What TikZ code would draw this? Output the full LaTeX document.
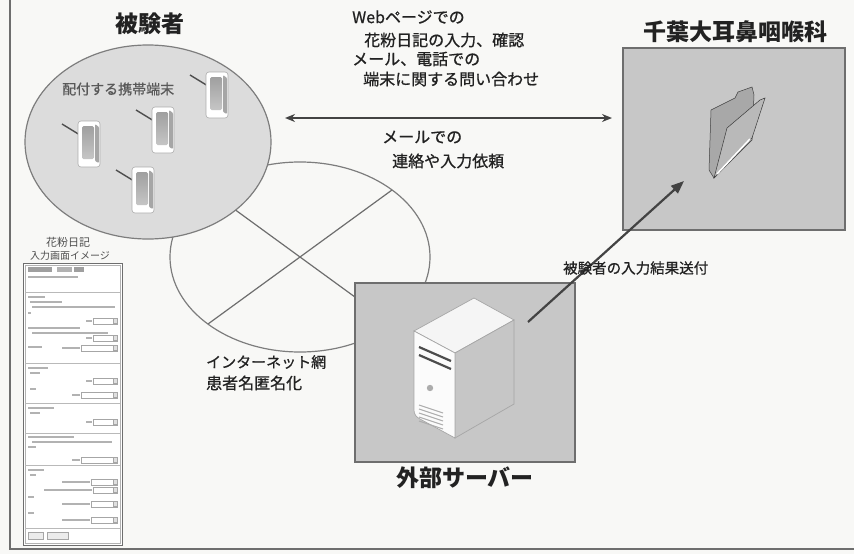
\documentclass[tikz,border=0pt]{standalone}
\usepackage{fontspec}
\newfontfamily\jp{Noto Sans CJK JP}
\newfontfamily\jpm{Noto Sans CJK JP}[FakeBold=0.8]
\usetikzlibrary{shapes.geometric,arrows.meta,calc}
\definecolor{ink}{HTML}{222222}
\definecolor{paper}{HTML}{F8F8F6}
\definecolor{edge}{HTML}{6E6E6E}
\definecolor{boxgray}{HTML}{C7C7C7}
\definecolor{ovalgray}{HTML}{DCDCDC}
\tikzset{
  every node/.style={font=\jp, text=ink, inner sep=0pt},
  title/.style={font=\jp\bfseries\fontsize{23}{26}\selectfont},
  note/.style={anchor=west, font=\jpm\fontsize{16}{19}\selectfont},
  panel/.style={rectangle, draw=edge, line width=1.2pt, fill=boxgray},
  oval/.style={ellipse, draw=edge!90, line width=1.2pt},
  link/.style={draw=ink!85, line width=1.8pt},
  formline/.style={draw=gray!70, line width=0.6pt},
  formtext/.style={fill=gray!60},
  handset/.pic={
    \draw[line width=1.4pt, ink!80] (-16,3) -- (2,14);
    \draw[fill=white, draw=gray!65, line width=0.6pt, rounded corners=3pt] (0,0) rectangle (22,46);
    \fill[gray!70, rounded corners=1pt] (17,3) -- (21,6) -- (21,42) -- (17,40) -- cycle;
    \shade[top color=gray!75, bottom color=gray!45, rounded corners=1.5pt] (4,5) rectangle (16,38);
  }
}
% one row of the sample entry form: a label bar and a selection field
\newcommand{\formfield}[3]{%
  \fill[formtext] (#1,#3-1.3) rectangle (#2,#3+1.3);
  \draw[formline] (#2+1,#3-3) rectangle (117,#3+3);
  \draw[formline, fill=gray!25] (113,#3-2.5) rectangle (117,#3+2.5);
}
\newcommand{\formtxt}[3]{\fill[formtext] (#1,#3-1.1) rectangle (#2,#3+1.1);}
\begin{document}
\begin{tikzpicture}[x=1pt,y=-1pt]
\useasboundingbox (0,0) rectangle (854,554);
\fill[paper] (0,0) rectangle (854,554);
% page frame
\draw[edge, line width=1.2pt] (10,0) -- (10,549) -- (854,549);

% internet oval with its cross
\node[oval, fill=paper, minimum width=260pt, minimum height=190pt] (net) at (300,257) {};
\draw[edge, line width=1.2pt] ($(net.center)+(-92,-67)$) -- ($(net.center)+(92,67)$);
\draw[edge, line width=1.2pt] ($(net.center)+(92,-67)$) -- ($(net.center)+(-92,67)$);

% subjects oval with handsets
\node[oval, fill=ovalgray, minimum width=246pt, minimum height=194pt] (subjects) at (148,142) {};
\node[title, anchor=center] (subjectstitle) at (150,24) {被験者};
\node[anchor=west, text=ink!75, font=\jpm\fontsize{14}{16}\selectfont] (devices) at (62,89) {配付する携帯端末};
\pic at (206,72) {handset};
\pic at (152,107) {handset};
\pic at (78,121) {handset};
\pic at (132,167) {handset};

% external server
\node[panel, minimum width=220pt, minimum height=179pt] (server) at (465,372.5) {};
\node[title] (servertitle) at (465,478) {外部サーバー};
\begin{scope}[draw=gray!70, line width=0.7pt]
  \filldraw[fill=gray!8] (414,331) -- (474,298) -- (514,320) -- (455,353) -- cycle;
  \filldraw[fill=gray!45] (455,353) -- (514,320) -- (514,404) -- (455,438) -- cycle;
  \filldraw[fill=gray!3] (414,331) -- (455,353) -- (455,438) -- (420,419)
     .. controls (416,417) and (414,414) .. (414,410) -- cycle;
\end{scope}
\draw[gray!60!black, line width=2.2pt] (419,347) -- (451,361);
\draw[gray!60!black, line width=2.2pt] (419,355) -- (451,369);
\fill[gray!65] (430,388) circle (3.2);
\foreach \i in {0,...,4}
  \draw[gray!65, line width=1pt] (419,405+\i*4) -- (443,413+\i*4);

% department panel with folder
\node[panel, minimum width=222pt, minimum height=182pt] (chiba) at (734,139) {};
\node[title] (chibatitle) at (735,32) {千葉大耳鼻咽喉科};
\filldraw[fill=gray!68, draw=gray!50!black, line width=0.5pt]
  (711,110) -- (735,98) -- (738,92) -- (752,87) -- (754,95) -- (752,140) -- (714,178) -- (709,170) -- cycle;
\filldraw[fill=gray!55, draw=gray!45!black, line width=0.5pt]
  (714,178) -- (727,128) -- (760,100) -- (765,98) -- (752,138) -- cycle;
\draw[white, line width=1.6pt] (717,174) -- (750,139);

% exchange between subjects and department
\coordinate (aL) at (285,118);
\coordinate (aR) at (612,118);
\draw[link, {Stealth[length=10pt,width=8pt]}-{Stealth[length=10pt,width=8pt]}] (aL) -- (aR);
\node[note] (l1) at (352,17) {Webページでの};
\node[note] (l2) at (364,40) {花粉日記の入力、確認};
\node[note] (l3) at (352,59) {メール、電話での};
\node[note] (l4) at (363,79) {端末に関する問い合わせ};
\node[note] (m1) at (382,137) {メールでの};
\node[note] (m2) at (392,161) {連絡や入力依頼};

% upload of results
\coordinate (upFrom) at (528,322);
\coordinate (upTo) at (684,181);
\draw[link, line width=2.2pt, -{Triangle[length=13pt,width=10pt]}] (upFrom) -- (upTo);
\node[note, font=\jpm\fontsize{14.5}{17}\selectfont] (result) at (563,268) {被験者の入力結果送付};

% internet labels
\node[note, font=\jpm\fontsize{15}{18}\selectfont] (i1) at (206,362) {インターネット網};
\node[note] (i2) at (206,383) {患者名匿名化};

% sample entry form
\node[font=\jp\fontsize{11}{13}\selectfont, text=ink!80] (formcap1) at (68,242) {花粉日記};
\node[font=\jp\fontsize{10}{13}\selectfont, text=ink!80] (formcap2) at (70,256) {入力画面イメージ};
\draw[edge, line width=0.8pt, fill=white] (23,263) rectangle (122,545);
\draw[gray!60, line width=0.5pt] (25,265) rectangle (120,543);
\foreach \y in {292,363,403,433,465,528}
  \draw[gray!55, line width=0.8pt] (25,\y) -- (120,\y);
% header
\fill[gray!75] (28,267) rectangle (52,271.5);
\fill[gray!60] (57,267) rectangle (72,271.5);
\fill[gray!75] (74,267) rectangle (84,271.5);
\formtxt{28}{78}{277}
% first block
\formtxt{28}{45}{297}
\formtxt{30}{62}{302}
\formtxt{32}{115}{307}
\formtxt{28}{31}{313}
\formfield{86}{92}{321}
\formtxt{28}{80}{328}
\formtxt{32}{108}{333}
\formfield{86}{92}{338}
\formtxt{28}{42}{347}
\formfield{62}{80}{348}
% second block
\formtxt{28}{48}{368}
\formtxt{30}{40}{373}
\formfield{86}{92}{381}
\formtxt{30}{36}{389}
\formfield{72}{80}{395}
% third block
\formtxt{28}{54}{408}
\formtxt{30}{40}{413}
\formfield{86}{92}{422}
% fourth block
\formtxt{28}{74}{437}
\formtxt{32}{112}{442}
\formtxt{28}{36}{447}
\formfield{72}{80}{460}
% fifth block
\formtxt{28}{44}{470}
\formtxt{30}{36}{475}
\formfield{62}{90}{482}
\formfield{44}{92}{490}
\formtxt{28}{34}{497}
\formfield{62}{90}{504}
\formtxt{28}{34}{513}
\formfield{62}{90}{520}
% buttons
\draw[formline, fill=gray!15] (28,532) rectangle (43,539);
\draw[formline, fill=gray!15] (47,532) rectangle (68,539);
\end{tikzpicture}
\end{document}
